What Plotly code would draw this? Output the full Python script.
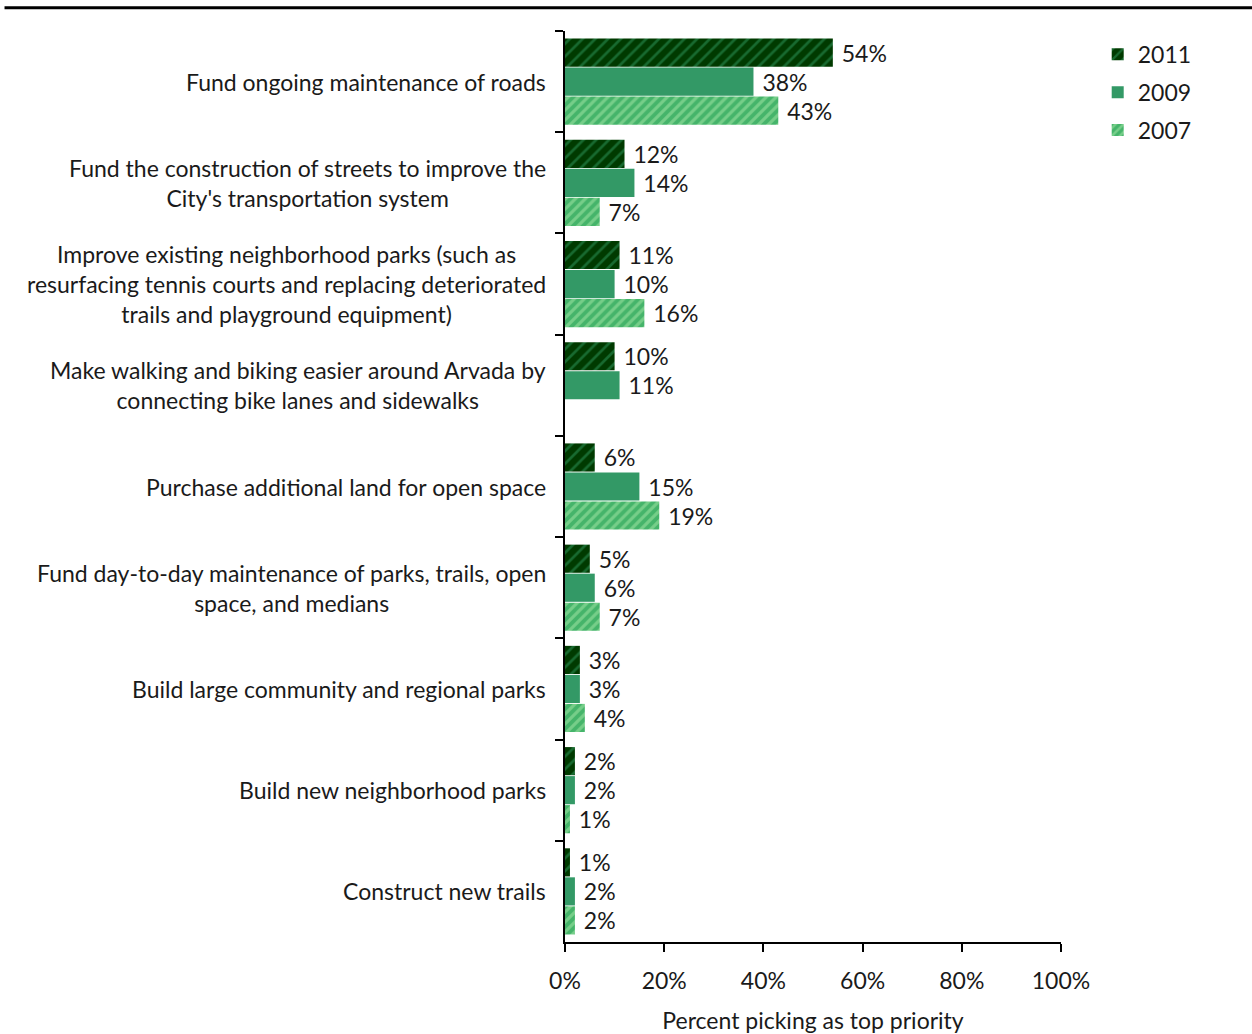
import plotly.graph_objects as go

categories = [
    "Fund ongoing maintenance of roads",
    "Fund the construction of streets to improve the<br>City's transportation system",
    "Improve existing neighborhood parks (such as<br>resurfacing tennis courts and replacing deteriorated<br>trails and playground equipment)",
    "Make walking and biking easier around Arvada by<br>connecting bike lanes and sidewalks",
    "Purchase additional land for open space",
    "Fund day-to-day maintenance of parks, trails, open<br>space, and medians",
    "Build large community and regional parks",
    "Build new neighborhood parks",
    "Construct new trails",
]
keys = [f"c{i}" for i in range(len(categories))]

values_2011 = [54, 12, 11, 10, 6, 5, 3, 2, 1]
values_2009 = [38, 14, 10, 11, 15, 6, 3, 2, 2]
values_2007 = [43, 7, 16, None, 19, 7, 4, 1, 2]

x_ticks = [0, 20, 40, 60, 80, 100]
x_tick_labels = ["0%", "20%", "40%", "60%", "80%", "100%"]

FONT = "Lato"
FS = 23
TXT = "#1a1a1a"

series = [
    ("2011", values_2011, dict(color="#003a00",
                               pattern=dict(shape="/", fgcolor="#2f9a5f", bgcolor="#003a00",
                                            size=9, solidity=0.3))),
    ("2009", values_2009, dict(color="#339966")),
    ("2007", values_2007, dict(color="#45b46a",
                               pattern=dict(shape="/", fgcolor="#a8e8a8", bgcolor="#45b46a",
                                            size=7, solidity=0.45))),
]

fig = go.Figure()
for name, vals, marker in series:
    fig.add_trace(go.Bar(
        name=name,
        legendgroup=name,
        y=keys,
        x=vals,
        orientation="h",
        marker=dict(line=dict(width=0), **marker),
        text=[f"{v}%" if v is not None else "" for v in vals],
        texttemplate=" %{text}",
        textposition="outside",
        textfont=dict(family=FONT, size=FS, color=TXT),
        cliponaxis=False,
        hoverinfo="skip",
    ))

# Category labels: right-aligned block, centred lines
for k, label in zip(keys, categories):
    fig.add_annotation(
        x=-0.034, xref="paper", y=k, yref="y",
        text=label, showarrow=False,
        xanchor="right", yanchor="middle", align="center",
        font=dict(family=FONT, size=FS, color=TXT),
    )

# Rule across the top of the page
fig.add_shape(type="line", xref="paper", yref="paper",
              x0=-1.13, x1=1.39, y0=1.0255, y1=1.0255,
              line=dict(color="black", width=3))

fig.update_layout(
    width=1252, height=1034,
    margin=dict(l=565, r=191, t=31, b=92),
    paper_bgcolor="white", plot_bgcolor="white",
    barmode="group", bargap=0.14, bargroupgap=0.03,
    font=dict(family=FONT, size=FS, color=TXT),
    showlegend=True,
    legend=dict(x=1.074, xanchor="left", y=0.998, yanchor="top",
                font=dict(family=FONT, size=FS, color=TXT),
                itemwidth=30, tracegroupgap=5, bgcolor="rgba(0,0,0,0)"),
    xaxis=dict(
        range=[0, 100], tickvals=x_ticks, ticktext=x_tick_labels,
        showgrid=False, zeroline=False,
        showline=True, linecolor="black", linewidth=2,
        ticks="outside", ticklen=8, tickwidth=2, tickcolor="black",
        ticklabelstandoff=9,
        tickfont=dict(family=FONT, size=FS, color=TXT),
        title=dict(text="Percent picking as top priority", standoff=20,
                   font=dict(family=FONT, size=FS, color=TXT)),
        automargin=False,
        fixedrange=True,
    ),
    yaxis=dict(
        categoryorder="array", categoryarray=keys,
        autorange="reversed",
        showticklabels=False, showgrid=False, zeroline=False,
        showline=True, linecolor="black", linewidth=2,
        ticks="outside", ticklen=8, tickwidth=2, tickcolor="black",
        tickson="boundaries",
        automargin=False,
        fixedrange=True,
    ),
)

fig.write_html("out.html")
